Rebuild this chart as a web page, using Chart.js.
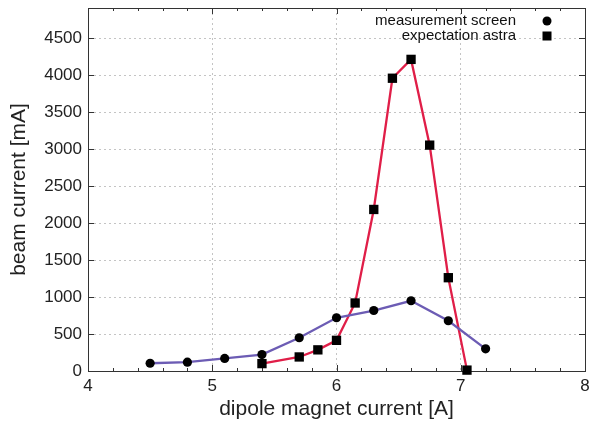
<!DOCTYPE html>
<html>
<head>
<meta charset="utf-8">
<script src="https://cdn.jsdelivr.net/npm/chart.js@4"></script>
<style>
  body { margin: 0; background: #fff; }
  canvas { display: block; }
</style>
</head>
<body>
<canvas id="chart" width="592" height="424"></canvas>
<script>
// measured beam current on the screen
const measX = [4.5, 4.8, 5.1, 5.4, 5.7, 6.0, 6.3, 6.6, 6.9, 7.2];
const measY = [105, 120, 170, 222, 450, 720, 818, 950, 680, 300];

// expectation from astra
const astraX = [5.4, 5.7, 5.85, 6.0, 6.15, 6.3, 6.45, 6.6, 6.75, 6.9, 7.05];
const astraY = [100, 190, 286, 415, 920, 2185, 3960, 4215, 3055, 1262, 12];

const xTicks = [4, 5, 6, 7, 8];
const yTicks = [0, 500, 1000, 1500, 2000, 2500, 3000, 3500, 4000, 4500];

const legendLabels = ['measurement screen', 'expectation astra'];

const FONT = "'Liberation Sans', Arial, sans-serif";
const RED = '#e01e48';
const PURPLE = '#6c5cb4';

function toPoints(xs, ys) {
  return xs.map((x, i) => ({ x: x, y: ys[i] }));
}

// gnuplot-like frame: border on all four sides, inward ticks, legend
const framePlugin = {
  id: 'frame',
  beforeDatasetsDraw(chart) {
    const { ctx, chartArea: a, scales } = chart;
    ctx.save();
    ctx.strokeStyle = '#333';
    ctx.lineWidth = 1;
    ctx.strokeRect(a.left + 0.5, a.top + 0.5, a.right - a.left, a.bottom - a.top);
    ctx.beginPath();
    // x ticks, major every 1, minor every 0.2
    for (let v = 4; v <= 8.0001; v += 0.2) {
      const px = Math.round(scales.x.getPixelForValue(v)) + 0.5;
      const major = Math.abs(v - Math.round(v)) < 1e-6;
      const len = major ? 6 : 3;
      ctx.moveTo(px, a.bottom); ctx.lineTo(px, a.bottom - len);
      ctx.moveTo(px, a.top); ctx.lineTo(px, a.top + len);
    }
    yTicks.forEach(v => {
      const py = Math.round(scales.y.getPixelForValue(v)) + 0.5;
      ctx.moveTo(a.left, py); ctx.lineTo(a.left + 6, py);
      ctx.moveTo(a.right, py); ctx.lineTo(a.right - 6, py);
    });
    ctx.stroke();
    ctx.restore();
  },
  afterDraw(chart) {
    const ctx = chart.ctx;
    ctx.save();
    ctx.font = '15px ' + FONT;
    ctx.fillStyle = '#111';
    ctx.textAlign = 'right';
    ctx.textBaseline = 'middle';
    ctx.fillText(legendLabels[0], 516, 21);
    ctx.fillText(legendLabels[1], 516, 36);
    ctx.fillStyle = '#000';
    ctx.beginPath();
    ctx.arc(547, 21, 4.5, 0, Math.PI * 2);
    ctx.fill();
    ctx.fillRect(542.5, 31.5, 9, 9);
    ctx.restore();
  }
};

new Chart(document.getElementById('chart'), {
  type: 'line',
  data: {
    datasets: [
      {
        label: legendLabels[0],
        data: toPoints(measX, measY),
        borderColor: PURPLE,
        borderWidth: 2.3,
        pointStyle: 'circle',
        pointRadius: 4.6,
        pointBackgroundColor: '#000',
        pointBorderColor: '#000',
        pointBorderWidth: 0,
        tension: 0,
        clip: false
      },
      {
        label: legendLabels[1],
        data: toPoints(astraX, astraY),
        borderColor: RED,
        borderWidth: 2.3,
        pointStyle: 'rect',
        pointRadius: 6.6,
        pointBackgroundColor: '#000',
        pointBorderColor: '#000',
        pointBorderWidth: 0,
        tension: 0,
        clip: false
      }
    ]
  },
  options: {
    responsive: false,
    animation: false,
    layout: { padding: { top: 8, right: 7, bottom: 0, left: 0 } },
    plugins: {
      legend: { display: false },
      tooltip: { enabled: false }
    },
    scales: {
      x: {
        type: 'linear',
        min: 4,
        max: 8,
        afterBuildTicks: s => { s.ticks = xTicks.map(v => ({ value: v })); },
        afterFit: s => { s.height = 53; s.paddingLeft = 0; s.paddingRight = 0; },
        ticks: {
          font: { family: FONT, size: 17 },
          color: '#222',
          padding: 5,
          maxRotation: 0,
          callback: v => String(v)
        },
        grid: {
          drawTicks: false,
          color: ctx => (ctx.tick && (ctx.tick.value === 4 || ctx.tick.value === 8)) ? 'rgba(0,0,0,0)' : '#c4c4c4',
          lineWidth: 1
        },
        border: { display: true, color: '#333', width: 1, dash: [2, 3] },
        title: {
          display: true,
          text: 'dipole magnet current [A]',
          font: { family: FONT, size: 21 },
          color: '#222',
          padding: { top: 0, bottom: 2 }
        }
      },
      y: {
        min: 0,
        max: 4910,
        afterBuildTicks: s => { s.ticks = yTicks.map(v => ({ value: v })); },
        afterFit: s => { s.width = 88; s.paddingTop = 0; s.paddingBottom = 0; },
        ticks: {
          font: { family: FONT, size: 17 },
          color: '#222',
          padding: 6,
          callback: v => String(v)
        },
        grid: {
          drawTicks: false,
          color: ctx => (ctx.tick && ctx.tick.value === 0) ? 'rgba(0,0,0,0)' : '#c4c4c4',
          lineWidth: 1
        },
        border: { display: true, color: '#333', width: 1, dash: [2, 3] },
        title: {
          display: true,
          text: 'beam current [mA]',
          font: { family: FONT, size: 21 },
          color: '#222',
          padding: { top: 7, bottom: 0 }
        }
      }
    }
  },
  plugins: [framePlugin]
});
</script>
</body>
</html>
